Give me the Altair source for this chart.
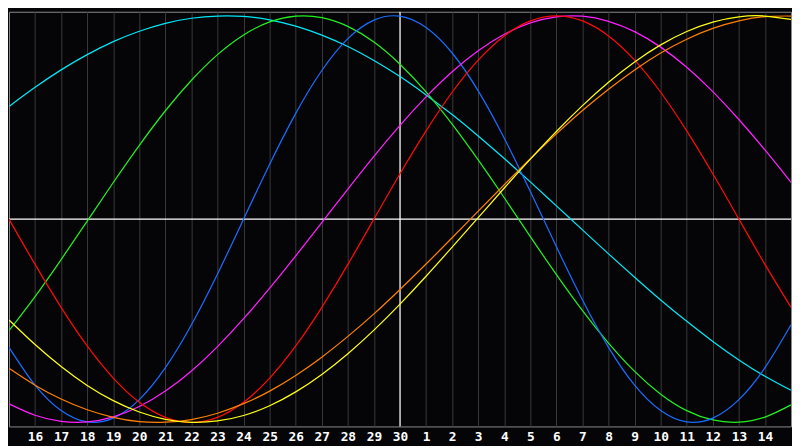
import altair as alt
import pandas as pd

# day index (0 = the 15th of the previous month, 15 = the 30th, 30 = the 15th)
T = list(range(31))
tick_labels = ["", "16", "17", "18", "19", "20", "21", "22", "23", "24", "25", "26", "27", "28", "29", "30",
               "1", "2", "3", "4", "5", "6", "7", "8", "9", "10", "11", "12", "13", "14", ""]

physical = [-0.631, -0.817, -0.942, -0.998, -0.979, -0.888, -0.731, -0.520, -0.270, 0.000, 0.270,
            0.520, 0.731, 0.888, 0.979, 0.998, 0.942, 0.817, 0.631, 0.398, 0.136, -0.136,
            -0.398, -0.631, -0.817, -0.942, -0.998, -0.979, -0.888, -0.731, -0.520]
emotional = [0.000, -0.223, -0.434, -0.624, -0.782, -0.901, -0.975, -1.000, -0.975, -0.901, -0.782,
             -0.624, -0.434, -0.223, 0.000, 0.223, 0.434, 0.624, 0.782, 0.901, 0.975, 1.000,
             0.975, 0.901, 0.782, 0.624, 0.434, 0.223, 0.000, -0.223, -0.434]
intellectual = [-0.549, -0.381, -0.199, -0.010, 0.180, 0.363, 0.533, 0.683, 0.809, 0.906, 0.970,
                0.998, 0.991, 0.948, 0.871, 0.762, 0.626, 0.467, 0.291, 0.105, -0.086, -0.273,
                -0.450, -0.610, -0.749, -0.861, -0.942, -0.988, -0.999, -0.974, -0.914]
intuitive = [-0.909, -0.965, -0.995, -0.998, -0.973, -0.922, -0.846, -0.747, -0.627, -0.490, -0.340,
             -0.181, -0.017, 0.148, 0.309, 0.461, 0.601, 0.725, 0.828, 0.909, 0.965, 0.995,
             0.998, 0.973, 0.922, 0.846, 0.747, 0.627, 0.490, 0.340, 0.181]
aesthetic = [-0.496, -0.617, -0.725, -0.818, -0.893, -0.949, -0.985, -1.000, -0.993, -0.966, -0.918,
             -0.850, -0.764, -0.662, -0.546, -0.418, -0.281, -0.138, 0.007, 0.153, 0.295, 0.431,
             0.558, 0.673, 0.773, 0.857, 0.923, 0.969, 0.995, 0.999, 0.982]
awareness = [-0.734, -0.817, -0.885, -0.938, -0.975, -0.996, -0.999, -0.986, -0.955, -0.908, -0.846,
             -0.769, -0.679, -0.577, -0.466, -0.346, -0.221, -0.092, 0.039, 0.169, 0.297, 0.419,
             0.534, 0.639, 0.734, 0.817, 0.885, 0.938, 0.975, 0.996, 0.999]
spiritual = [0.554, 0.648, 0.734, 0.809, 0.873, 0.924, 0.963, 0.988, 0.999, 0.997, 0.980,
             0.949, 0.905, 0.849, 0.780, 0.701, 0.611, 0.514, 0.409, 0.298, 0.183, 0.065,
             -0.053, -0.171, -0.286, -0.398, -0.503, -0.602, -0.693, -0.773, -0.842]

series_names = ["spiritual", "intellectual", "physical", "intuitive", "emotional", "awareness", "aesthetic"]
series_colors = ["#00e8f8", "#22f022", "#1a6cff", "#ff20ff", "#ff0a0a", "#ff8000", "#ffff10"]
series_values = {
    "physical": physical, "emotional": emotional, "intellectual": intellectual,
    "intuitive": intuitive, "aesthetic": aesthetic, "awareness": awareness, "spiritual": spiritual,
}

rows = []
for name in series_names:
    for t, v in zip(T, series_values[name]):
        rows.append({"t": t, "v": v, "series": name})
df = pd.DataFrame(rows)

# label lookup built from the tick label list
label_expr = "''"
for i in range(len(tick_labels) - 1, -1, -1):
    label_expr = f"datum.value == {T[i]} ? '{tick_labels[i]}' : ({label_expr})"

x_scale = alt.Scale(domain=[0, 30], nice=False, zero=False)
y_scale = alt.Scale(domain=[-1.02, 1.02], nice=False, zero=False)

x_axis = alt.Axis(
    values=T[1:30], labelExpr=label_expr, grid=True, gridColor="#3a3a3a", gridWidth=1,
    domain=False, ticks=False, labelColor="#ffffff", labelFont="DejaVu Sans Mono",
    labelFontWeight="bold", labelFontSize=13, labelPadding=4, labelAngle=0,
    labelOverlap=False, title=None,
)

lines = alt.Chart(df).mark_line(strokeWidth=1.25, interpolate="natural", clip=True).encode(
    x=alt.X("t:Q", scale=x_scale, axis=x_axis),
    y=alt.Y("v:Q", scale=y_scale, axis=None),
    color=alt.Color("series:N", scale=alt.Scale(domain=series_names, range=series_colors), legend=None),
)

hrule = alt.Chart(pd.DataFrame({"v": [0.0]})).mark_rule(color="#ffffff", strokeWidth=1.2).encode(
    y=alt.Y("v:Q", scale=y_scale, axis=None)
)
vrule = alt.Chart(pd.DataFrame({"t": [15]})).mark_rule(color="#ffffff", strokeWidth=1.2).encode(
    x=alt.X("t:Q", scale=x_scale, axis=x_axis)
)

chart = alt.layer(hrule, vrule, lines).properties(
    width=792, height=420, background="#050508", padding=0
).configure_view(stroke="#8c8c8c", strokeWidth=1)

chart.save("out.html", embed_options={"renderer": "svg", "actions": False})
